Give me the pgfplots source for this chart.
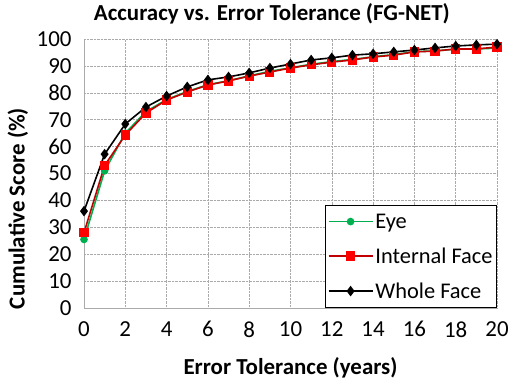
\documentclass[border=0pt]{standalone}
\usepackage{pgfplots}
\pgfplotsset{compat=1.18}
\usepackage{fontspec}
\setmainfont{Carlito}
\definecolor{eyegreen}{RGB}{0,176,80}
\definecolor{intred}{RGB}{192,0,0}
\definecolor{sqred}{RGB}{255,0,0}
\definecolor{gridgray}{RGB}{170,170,170}
\begin{document}
\begin{tikzpicture}
\useasboundingbox (-84bp,-74bp) rectangle (426bp,308bp);
\begin{axis}[
  at={(0,0)}, anchor=south west,
  scale only axis, width=413bp, height=269bp,
  xmin=0, xmax=20, ymin=0, ymax=100,
  xtick={0,2,...,20}, ytick={0,10,...,100},
  grid=major, grid style={densely dotted, gridgray, line width=0.6pt},
  axis x line*=bottom, axis y line*=left,
  axis line style={gridgray, line width=0.9pt, -},
  major tick length=0pt,
  tick label style={font=\fontsize{23}{23}\selectfont},
  /pgf/number format/assume math mode=true,
  yticklabel style={xshift=-9bp},
  xticklabel style={yshift=-10bp},
  xlabel={Error Tolerance (years)},
  ylabel={Cumulative Score (\%)},
  xlabel style={font=\fontsize{23}{23}\selectfont\bfseries, at={(axis description cs:0.5,-0.223)}, anchor=center},
  ylabel style={font=\fontsize{23}{23}\selectfont\bfseries, at={(axis description cs:-0.16,0.37)}, anchor=center},
  title={Accuracy vs. Error Tolerance (FG-NET)},
  title style={font=\fontsize{23}{23}\selectfont\bfseries, at={(axis description cs:0.455,1.071)}, anchor=center, yshift=0pt},
  clip=false,
  legend style={at={(1,0)}, anchor=south east, draw=black, line width=0.8pt, fill=white,
    font=\fontsize{22.5}{22.5}\selectfont, row sep=14bp, inner xsep=2bp, inner ysep=6bp},
  legend cell align=left,
  legend image code/.code={\draw[mark repeat=2, mark phase=2] plot coordinates {(6bp,0bp) (28bp,0bp) (50bp,0bp)};},
]
\addplot[eyegreen, line width=1.6bp, mark=*, mark size=3bp, mark options={fill=eyegreen, draw=eyegreen}] coordinates {
(0,25.5) (1,51) (2,65) (3,73) (4,77.5) (5,80.5) (6,83) (7,84.5) (8,86.3) (9,88) (10,89.3) (11,90.6) (12,91.6) (13,92.4) (14,93.4) (15,94.2) (16,95.3) (17,95.6) (18,96.2) (19,96.3) (20,96.6)};
\addlegendentry{Eye}
\addplot[intred, line width=1.6bp, mark=square*, mark size=3.8bp, mark options={fill=sqred, draw=sqred}] coordinates {
(0,28) (1,53) (2,64.3) (3,72.5) (4,77.3) (5,80.3) (6,82.9) (7,84.4) (8,86.2) (9,87.7) (10,89.2) (11,90.4) (12,91.4) (13,92.2) (14,93.3) (15,94) (16,95.2) (17,95.5) (18,96.3) (19,96.3) (20,97)};
\addlegendentry{Internal Face}
\addplot[black, line width=1.6bp, mark=diamond*, mark size=4bp, mark options={fill=black, draw=black}] coordinates {
(0,36) (1,57.2) (2,68.4) (3,74.7) (4,78.8) (5,82.2) (6,84.8) (7,85.9) (8,87.4) (9,89.2) (10,90.7) (11,92.2) (12,93) (13,94) (14,94.5) (15,95.2) (16,95.9) (17,96.7) (18,97.4) (19,97.8) (20,98.1)};
\addlegendentry{Whole Face}
\end{axis}
\end{tikzpicture}
\end{document}
